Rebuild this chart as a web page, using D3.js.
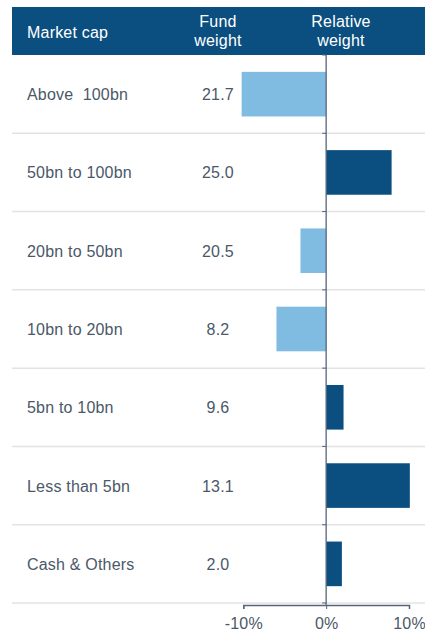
<!DOCTYPE html>
<html>
  <head>
    <meta charset="utf-8" />
    <title>Market cap</title>
    <style>
      body { margin: 0; padding: 0; background: #fff; }
      text { font-family: "Liberation Sans", Arial, sans-serif; }
      .lbl { fill: #4b5868; font-size: 16px; letter-spacing: 0.2px; }
      .hdr { fill: #fff; font-size: 16px; letter-spacing: 0.2px; }
      .sep { stroke: #e3e3e3; stroke-width: 1.5; }
    </style>
  </head>
  <body>
    <script src="https://d3js.org/d3.v7.min.js"></script>
    <script>

      // data
      var categories = ["Above  100bn", "50bn to 100bn", "20bn to 50bn", "10bn to 20bn",
                        "5bn to 10bn", "Less than 5bn", "Cash & Others"];
      var fundWeight = ["21.7", "25.0", "20.5", "8.2", "9.6", "13.1", "2.0"];
      var relWeight = [-10.2, 7.9, -3.1, -6.0, 2.1, 10.1, 1.9];
      var tickValues = [-10, 0, 10];

      var W = 425, H = 631;
      var rowTop = 55, rowBottom = 603;

      var svg = d3.select("body").append("svg")
        .attr("width", W)
        .attr("height", H);

      var x = d3.scaleLinear()
        .domain([-10, 10])
        .range([243.3, 409]);

      var y = d3.scaleBand()
        .domain(categories)
        .range([rowTop, rowBottom]);

      // header
      svg.append("rect")
        .attr("x", 12).attr("y", 7)
        .attr("width", W - 12).attr("height", rowTop - 7)
        .attr("fill", "#0b4f80");

      svg.append("text").attr("class", "hdr")
        .attr("x", 27).attr("y", 38).text("Market cap");

      var hdr2 = [["Fund", "weight"], ["Relative", "weight"]];
      var hdrX = [218, 341];
      hdr2.forEach(function(lines, i) {
        lines.forEach(function(t, j) {
          svg.append("text").attr("class", "hdr")
            .attr("x", hdrX[i]).attr("y", 27 + j * 19)
            .attr("text-anchor", "middle")
            .text(t);
        });
      });

      // row separators
      svg.selectAll(".sep")
        .data(categories)
        .enter().append("line")
          .attr("class", "sep")
          .attr("x1", 12).attr("x2", W)
          .attr("y1", function(d) { return y(d) + y.bandwidth(); })
          .attr("y2", function(d) { return y(d) + y.bandwidth(); });

      // labels
      svg.selectAll(".cat")
        .data(categories)
        .enter().append("text")
          .attr("class", "lbl cat")
          .attr("x", 27)
          .attr("y", function(d) { return y(d) + y.bandwidth() / 2 + 6; })
          .style("white-space", "pre")
          .text(function(d) { return d; });

      svg.selectAll(".fw")
        .data(fundWeight)
        .enter().append("text")
          .attr("class", "lbl fw")
          .attr("x", 218)
          .attr("text-anchor", "middle")
          .attr("y", function(d, i) { return y(categories[i]) + y.bandwidth() / 2 + 6; })
          .text(function(d) { return d; });

      // bars
      var inset = y.bandwidth() * 0.215;
      svg.selectAll(".bar")
        .data(relWeight)
        .enter().append("rect")
          .attr("class", "bar")
          .attr("x", function(d) { return x(Math.min(0, d)); })
          .attr("width", function(d) { return Math.abs(x(d) - x(0)); })
          .attr("y", function(d, i) { return y(categories[i]) + inset; })
          .attr("height", y.bandwidth() - 2 * inset)
          .attr("fill", function(d) { return d < 0 ? "#80bce2" : "#0b4f80"; });

      // zero line with small ticks at separators
      svg.append("line")
        .attr("x1", x(0)).attr("x2", x(0))
        .attr("y1", rowTop).attr("y2", rowBottom + 2)
        .attr("stroke", "#56657a").attr("stroke-width", 1.3);

      svg.selectAll(".ytick")
        .data([rowTop].concat(categories.map(function(d) { return y(d) + y.bandwidth(); })))
        .enter().append("line")
          .attr("class", "ytick")
          .attr("x1", x(0) - 4).attr("x2", x(0))
          .attr("y1", function(d) { return d; })
          .attr("y2", function(d) { return d; })
          .attr("stroke", "#56657a");

      // x axis
      var ax = svg.append("g")
        .attr("transform", "translate(0," + (rowBottom + 2) + ")")
        .call(d3.axisBottom(x)
          .tickValues(tickValues)
          .tickSize(4)
          .tickPadding(9)
          .tickFormat(function(d) { return d + "%"; }));

      ax.select(".domain").attr("stroke", "#56657a").attr("stroke-width", 1.5);
      ax.selectAll(".tick line").attr("stroke", "#56657a");
      ax.selectAll("text")
        .attr("class", "lbl")
        .style("font-size", "16px")
        .style("font-family", "'Liberation Sans', Arial, sans-serif");

    </script>
  </body>
</html>
